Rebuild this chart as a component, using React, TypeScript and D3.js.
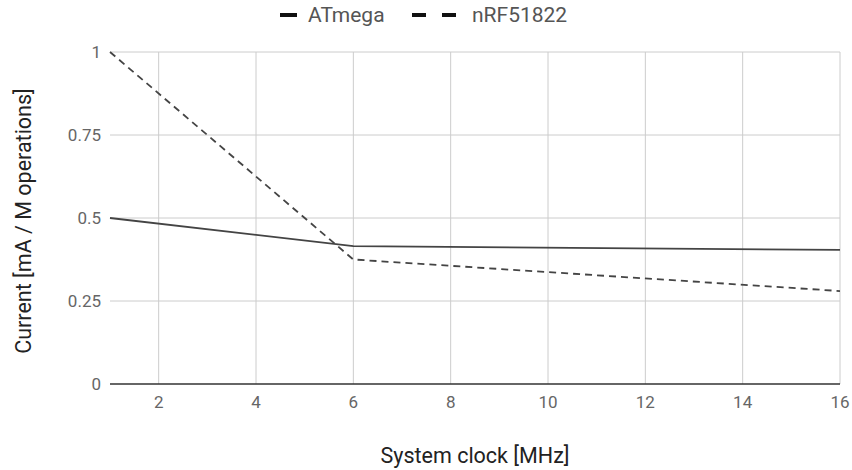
import React, { useEffect, useRef } from "react";
import * as d3 from "d3";

const clockMHz = [1, 6, 16];
const atmega = [0.5, 0.415, 0.404];
const nrf = [1, 0.375, 0.28];
const xTicks = [2, 4, 6, 8, 10, 12, 14, 16];
const yTicks = [0, 0.25, 0.5, 0.75, 1];
const yTickLabels = ["0", "0.25", "0.5", "0.75", "1"];
const seriesNames = ["ATmega", "nRF51822"];

const W = 852, H = 470;
const FONT = "Roboto, 'Noto Sans', sans-serif";

export default function App() {
  const ref = useRef<SVGSVGElement>(null);
  useEffect(() => {
    const svg = d3.select(ref.current);
    svg.selectAll("*").remove();
    const x = d3.scaleLinear().domain([1, 16]).range([110, 840]);
    const y = d3.scaleLinear().domain([0, 1]).range([384, 52]);

    const g = svg.append("g");
    // grid
    g.selectAll("line.hg").data(yTicks.filter(d => d > 0)).join("line")
      .attr("x1", x(1)).attr("x2", x(16)).attr("y1", d => y(d)).attr("y2", d => y(d))
      .attr("stroke", "#cccccc").attr("stroke-width", 1);
    g.selectAll("line.vg").data(xTicks).join("line")
      .attr("x1", d => x(d)).attr("x2", d => x(d)).attr("y1", y(0)).attr("y2", y(1))
      .attr("stroke", "#cccccc").attr("stroke-width", 1);
    // baseline
    g.append("line").attr("x1", x(1)).attr("x2", x(16)).attr("y1", y(0)).attr("y2", y(0))
      .attr("stroke", "#333").attr("stroke-width", 1.5);

    // y labels
    g.selectAll("text.yl").data(yTicks).join("text")
      .attr("x", 101).attr("y", d => y(d)).attr("dy", "0.35em")
      .attr("text-anchor", "end").attr("font-family", FONT).attr("font-size", 17)
      .attr("fill", "#666").text((d, i) => yTickLabels[i]);
    // x labels
    g.selectAll("text.xl").data(xTicks).join("text")
      .attr("x", d => x(d)).attr("y", 408)
      .attr("text-anchor", "middle").attr("font-family", FONT).attr("font-size", 17)
      .attr("fill", "#666").text(d => String(d));

    const line = d3.line<number>().x((d, i) => x(clockMHz[i])).y(d => y(d));
    g.append("path").attr("d", line(atmega)).attr("fill", "none")
      .attr("stroke", "#444").attr("stroke-width", 1.8);
    g.append("path").attr("d", line(nrf)).attr("fill", "none")
      .attr("stroke", "#444").attr("stroke-width", 1.8).attr("stroke-dasharray", "7,5");

    // axis titles
    g.append("text").attr("x", 475).attr("y", 463).attr("text-anchor", "middle")
      .attr("font-family", FONT).attr("font-size", 21.5).attr("fill", "#222").text("System clock [MHz]");
    g.append("text").attr("transform", "translate(31,221) rotate(-90)").attr("text-anchor", "middle")
      .attr("font-family", FONT).attr("font-size", 21.5).attr("fill", "#222").text("Current [mA / M operations]");

    // legend
    const lg = g.append("g");
    lg.append("line").attr("x1", 280).attr("x2", 297).attr("y1", 15).attr("y2", 15)
      .attr("stroke", "#111").attr("stroke-width", 4);
    lg.append("text").attr("x", 308).attr("y", 22)
      .attr("font-family", FONT).attr("font-size", 21).attr("fill", "#555").text(seriesNames[0]);
    lg.append("line").attr("x1", 412).attr("x2", 457).attr("y1", 15).attr("y2", 15)
      .attr("stroke", "#111").attr("stroke-width", 4).attr("stroke-dasharray", "14,16");
    lg.append("text").attr("x", 472).attr("y", 22)
      .attr("font-family", FONT).attr("font-size", 21).attr("fill", "#555").text(seriesNames[1]);
  }, []);
  return (
    <svg ref={ref} width={W} height={H} style={{ position: "absolute", left: 0, top: 0, background: "#fff" }} />
  );
}
